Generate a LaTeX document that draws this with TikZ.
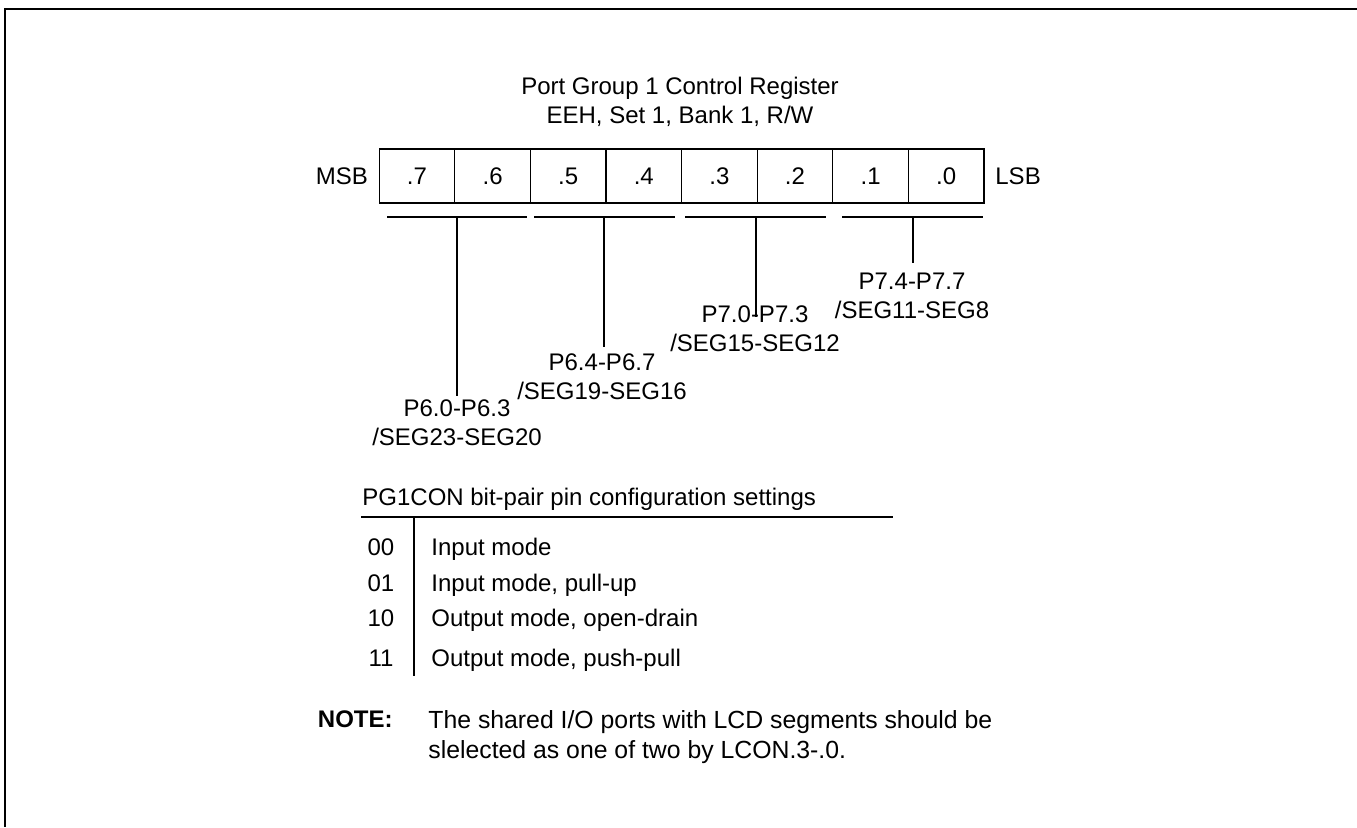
\documentclass[tikz,border=0pt]{standalone}
\usepackage{fontspec}
\setmainfont{Liberation Sans}
\usetikzlibrary{positioning}

\begin{document}
\begin{tikzpicture}[
  x=0.5pt,y=-0.5pt,
  font=\fontsize{12}{14.5}\selectfont,
  bit/.style={draw,line width=0.6pt,minimum width=37.8pt,minimum height=27pt,inner sep=0pt,outer sep=0pt},
  side/.style={inner sep=0pt},
  grp/.style={line width=0.6pt},
  seg/.style={align=center,inner sep=0pt},
  cell/.style={inner sep=0pt,anchor=base},
  desc/.style={inner sep=0pt,anchor=base west},
]
\useasboundingbox (0,0) rectangle (1357,827);
% frame, top and left side only
\draw[line width=1.3pt] (1357,9) -- (5,9) -- (5,827);

% register title
\node[align=center,inner sep=0pt] (title) at (680,102) {Port Group 1 Control Register\\EEH, Set 1, Bank 1, R/W};

% register bits
\node[bit] (b7) at (417,176) {.7};
\node[bit,right=0pt of b7] (b6) {.6};
\node[bit,right=0pt of b6] (b5) {.5};
\node[bit,right=0pt of b5] (b4) {.4};
\node[bit,right=0pt of b4] (b3) {.3};
\node[bit,right=0pt of b3] (b2) {.2};
\node[bit,right=0pt of b2] (b1) {.1};
\node[bit,right=0pt of b1] (b0) {.0};
\node[side,left=5.5pt of b7] (msb) {MSB};
\node[side,right=5.5pt of b0] (lsb) {LSB};

% bit-pair groups
\coordinate (g76l) at (387,217); \coordinate (g76r) at (527,217);
\coordinate (g54l) at (534,217); \coordinate (g54r) at (675,217);
\coordinate (g32l) at (685,217); \coordinate (g32r) at (826,217);
\coordinate (g10l) at (842,217); \coordinate (g10r) at (983,217);
\draw[grp] (g76l) -- (g76r);
\draw[grp] (g54l) -- (g54r);
\draw[grp] (g32l) -- (g32r);
\draw[grp] (g10l) -- (g10r);

\node[seg] (p76) at (457,423) {P6.0-P6.3\\/SEG23-SEG20};
\node[seg] (p54) at (602,376.5) {P6.4-P6.7\\/SEG19-SEG16};
\node[seg] (p32) at (755,329) {P7.0-P7.3\\/SEG15-SEG12};
\node[seg] (p10) at (912,295.5) {P7.4-P7.7\\/SEG11-SEG8};

\coordinate (e76) at (457,396);
\coordinate (e54) at (604,347);
\coordinate (e32) at (756,317);
\coordinate (e10) at (913,263);
\draw[grp] (e76 |- g76l) -- (e76);
\draw[grp] (e54 |- g54l) -- (e54);
\draw[grp] (e32 |- g32l) -- (e32);
\draw[grp] (e10 |- g10l) -- (e10);

% settings table
\node[desc] (head) at (362,505) {PG1CON bit-pair pin configuration settings};
\coordinate (hl) at (361,517); \coordinate (hr) at (893,517);
\draw[grp] (hl) -- (hr);
\coordinate (vt) at (414,517); \coordinate (vb) at (414,676);
\draw[grp] (vt) -- (vb);

\node[cell] (c00) at (381,555) {00};
\node[cell] (c01) at (381,591) {01};
\node[cell] (c10) at (381,626) {10};
\node[cell] (c11) at (381,666) {11};
\node[desc] (d00) at (431,555) {Input mode};
\node[desc] (d01) at (431,591) {Input mode, pull-up};
\node[desc] (d10) at (431,626) {Output mode, open-drain};
\node[desc] (d11) at (431,666) {Output mode, push-pull};

% note
\node[inner sep=0pt,anchor=base east] (note) at (393,727) {\bfseries NOTE:};
\node[desc,align=left,anchor=north west,font=\fontsize{12.4}{15}\selectfont] (notetxt) at (428,710) {The shared I/O ports with LCD segments should be\\slelected as one of two by LCON.3-.0.};
\end{tikzpicture}
\end{document}
